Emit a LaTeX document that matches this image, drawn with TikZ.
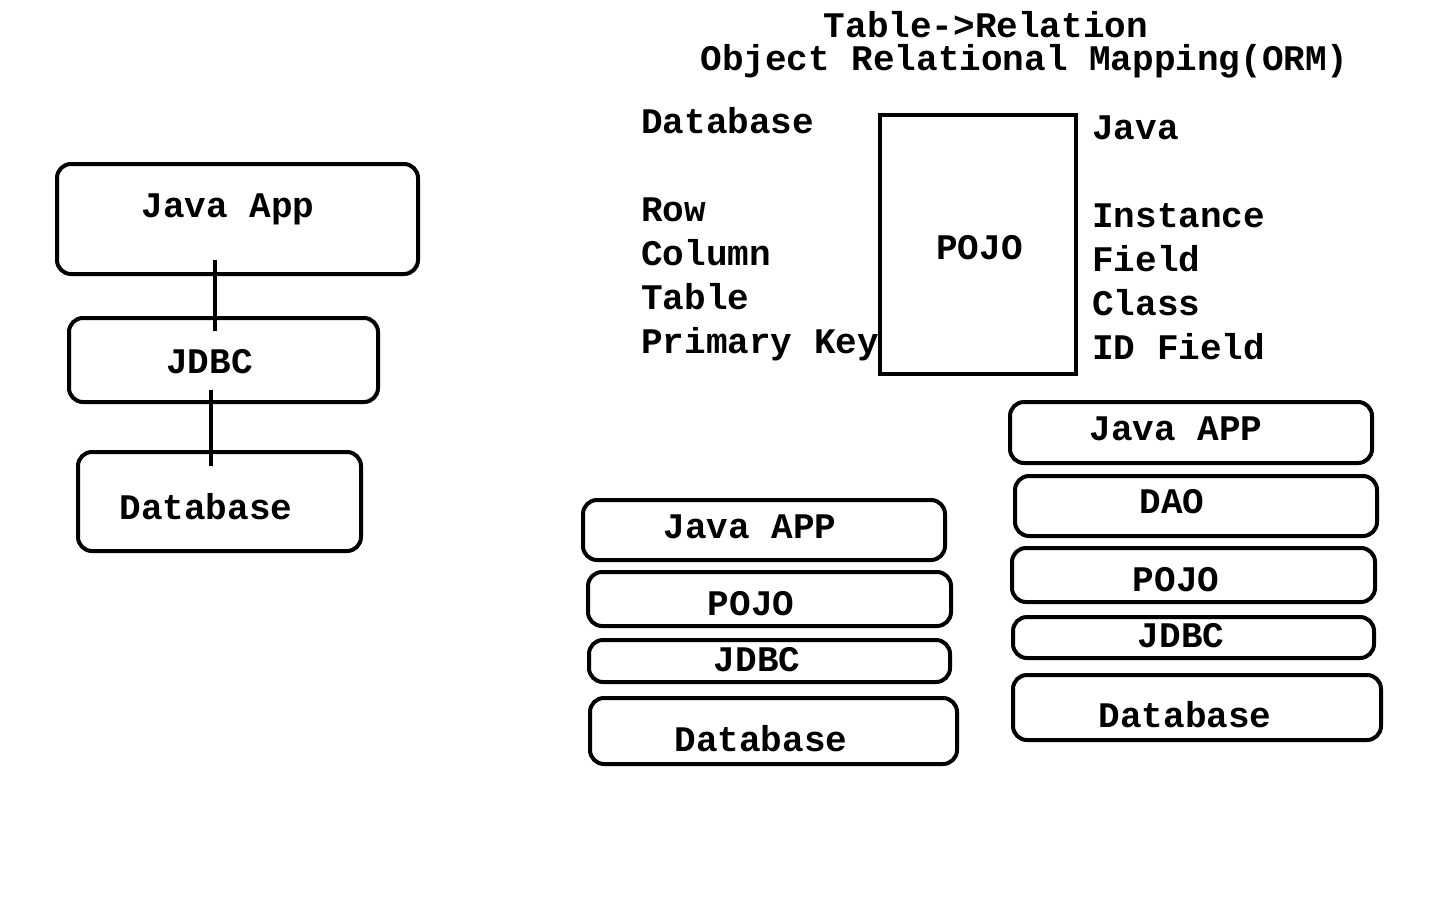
\documentclass[tikz,border=0pt]{standalone}
\usepackage{fontspec}
\setmainfont{Liberation Mono}
\usetikzlibrary{calc}
\begin{document}
\begin{tikzpicture}[x=1pt,y=-1pt,
  layer/.style={draw,line width=4pt,rounded corners=14pt,inner sep=0pt},
  word/.style={inner sep=0pt,anchor=base,font=\fontsize{36}{40}\selectfont\bfseries}]
\useasboundingbox[fill=white] (0,0) rectangle (1440,900);
% plain JDBC stack
\node[layer,minimum width=361pt,minimum height=110pt] (app) at (237.5,219) {};
\node[layer,minimum width=309pt,minimum height=84pt] (jdbc) at (223.5,360) {};
\node[layer,minimum width=283pt,minimum height=99pt] (db) at (219.5,501.5) {};
\node[word] (app-t) at (228,217) {Java App};
\node[word] (jdbc-t) at (209.5,373) {JDBC};
\node[word] (db-t) at (206,519) {Database};
\draw[line width=4pt] ($(app.south)+(-22.5,-16)$) -- ($(jdbc.north)+(-8.5,15)$);
\draw[line width=4pt] ($(jdbc.south)+(-12.5,-14)$) -- ($(db.north)+(-8.5,16)$);
% mapping
\node[word] (title) at (986,37) {Table->Relation};
\node[word] (orm) at (1024.5,70) {Object Relational Mapping(ORM)};
\node[draw,line width=4pt,minimum width=196pt,minimum height=259pt] (pojo) at (978,244.5) {};
\node[word] (pojo-t) at (979.5,259) {POJO};
\node[word,anchor=base west] (l-db) at (641,133) {Database};
\node[word,anchor=base west] (l-row) at (641,221) {Row};
\node[word,anchor=base west] (l-col) at (641,265) {Column};
\node[word,anchor=base west] (l-tab) at (641,309) {Table};
\node[word,anchor=base west] (l-pk) at (641,353) {Primary Key};
\node[word,anchor=base west] (r-java) at (1092,139) {Java};
\node[word,anchor=base west] (r-inst) at (1092,227) {Instance};
\node[word,anchor=base west] (r-field) at (1092,271) {Field};
\node[word,anchor=base west] (r-class) at (1092,315) {Class};
\node[word,anchor=base west] (r-id) at (1092,359) {ID Field};
% POJO stack
\node[layer,minimum width=362pt,minimum height=60pt] (a2) at (764,530) {};
\node[layer,minimum width=363pt,minimum height=54pt] (p2) at (769.5,599) {};
\node[layer,minimum width=361pt,minimum height=42pt] (j2) at (769.5,661) {};
\node[layer,minimum width=367pt,minimum height=66pt] (d2) at (773.5,731) {};
\node[word] (a2-t) at (750,538) {Java APP};
\node[word] (p2-t) at (751,615) {POJO};
\node[word] (j2-t) at (757,671) {JDBC};
\node[word] (d2-t) at (761,751) {Database};
% DAO stack
\node[layer,minimum width=362pt,minimum height=61pt] (a3) at (1191,432.5) {};
\node[layer,minimum width=362pt,minimum height=60pt] (dao) at (1196,506) {};
\node[layer,minimum width=363pt,minimum height=54pt] (p3) at (1193.5,575) {};
\node[layer,minimum width=361pt,minimum height=41pt] (j3) at (1193.5,637.5) {};
\node[layer,minimum width=368pt,minimum height=65pt] (d3) at (1197,707.5) {};
\node[word] (a3-t) at (1176,440) {Java APP};
\node[word] (dao-t) at (1172,513) {DAO};
\node[word] (p3-t) at (1176,591) {POJO};
\node[word] (j3-t) at (1181,647) {JDBC};
\node[word] (d3-t) at (1185,727) {Database};
\end{tikzpicture}
\end{document}
